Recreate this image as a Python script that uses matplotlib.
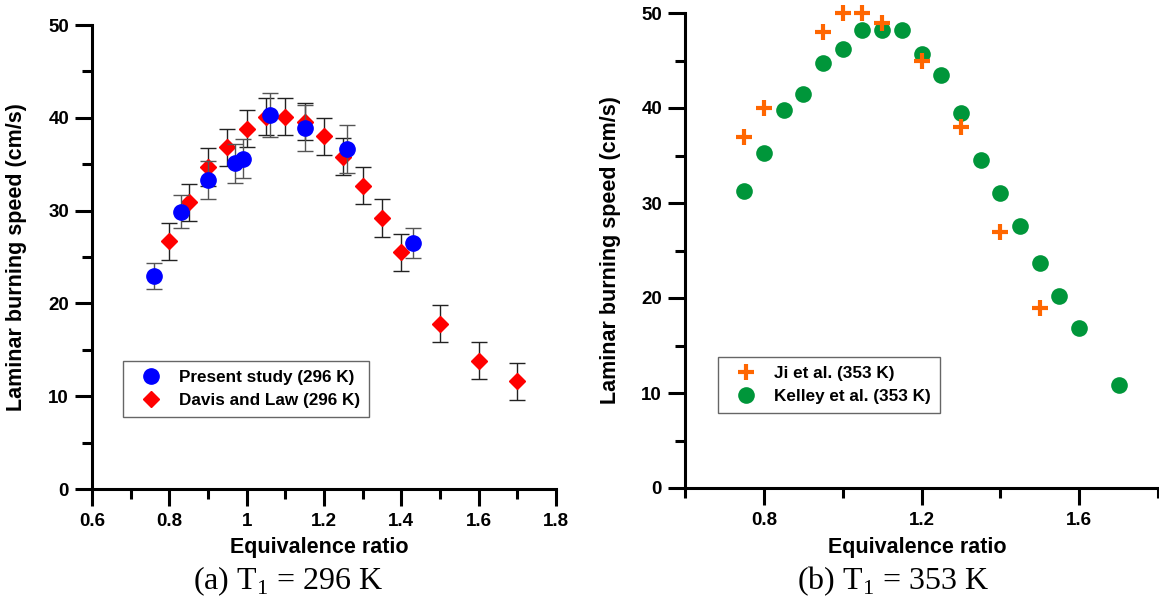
import matplotlib
matplotlib.use("Agg")
import matplotlib.pyplot as plt
from matplotlib.ticker import MultipleLocator, FixedLocator

plt.rcParams['font.family'] = ['Liberation Sans', 'DejaVu Sans']
plt.rcParams['mathtext.fontset'] = 'custom'
plt.rcParams['mathtext.rm'] = 'Liberation Serif'

# ---- Panel (a) data ----
present_phi = [0.76, 0.83, 0.90, 0.97, 0.99, 1.06, 1.15, 1.26, 1.43]
present_su = [22.9, 29.9, 33.3, 35.1, 35.6, 40.3, 38.9, 36.6, 26.5]
present_err = [1.4, 1.8, 2.0, 2.1, 2.1, 2.4, 2.5, 2.6, 1.6]

davis_phi = [0.80, 0.85, 0.90, 0.95, 1.00, 1.05, 1.10, 1.15, 1.20, 1.25,
             1.30, 1.35, 1.40, 1.50, 1.60, 1.70]
davis_su = [26.7, 30.9, 34.7, 36.8, 38.8, 40.1, 40.1, 39.6, 38.0, 35.8,
            32.7, 29.2, 25.5, 17.8, 13.8, 11.6]
davis_err = [2.0] * len(davis_phi)

# ---- Panel (b) data ----
ji_phi = [0.75, 0.80, 0.95, 1.00, 1.05, 1.10, 1.20, 1.30, 1.40, 1.50]
ji_su = [37.0, 40.0, 48.0, 50.0, 50.0, 49.0, 45.0, 38.0, 27.0, 19.0]

kelley_phi = [0.75, 0.80, 0.85, 0.90, 0.95, 1.00, 1.05, 1.10, 1.15, 1.20,
              1.25, 1.30, 1.35, 1.40, 1.45, 1.50, 1.55, 1.60, 1.70]
kelley_su = [31.3, 35.3, 39.8, 41.5, 44.7, 46.2, 48.2, 48.2, 48.2, 45.7,
             43.5, 39.5, 34.5, 31.1, 27.6, 23.7, 20.2, 16.8, 10.8]

y_ticks = [0, 10, 20, 30, 40, 50]
y_ticklabels = ['0', '10', '20', '30', '40', '50']
xa_ticks = [0.6, 0.8, 1.0, 1.2, 1.4, 1.6, 1.8]
xa_ticklabels = ['0.6', '0.8', '1', '1.2', '1.4', '1.6', '1.8']
xb_ticks = [0.8, 1.2, 1.6]
xb_ticklabels = ['0.8', '1.2', '1.6']

W, H = 1159, 605
fig = plt.figure(figsize=(W / 100, H / 100), dpi=100)

def px_axes(l, r, b, t):
    return fig.add_axes([l / W, 1 - b / H, (r - l) / W, (b - t) / H])

ax1 = px_axes(92, 556, 489, 25)
ax2 = px_axes(685, 1158, 488, 13)

TICK_FS = 13.5
LABEL_FS = 15.5
for ax in (ax1, ax2):
    for s in ('top', 'right'):
        ax.spines[s].set_visible(False)
    for s in ('left', 'bottom'):
        ax.spines[s].set_linewidth(2.2)
    ax.tick_params(which='major', direction='out', length=12.5, width=2.2)
    ax.tick_params(which='minor', direction='out', length=7, width=2.2)
    ax.tick_params(axis='x', which='major', pad=5)
    ax.tick_params(axis='y', which='major', pad=4)
    ax.set_ylim(0, 50)
    ax.set_yticks(y_ticks)
    ax.set_yticklabels(y_ticklabels, fontweight='bold', fontsize=TICK_FS)
    ax.yaxis.set_minor_locator(MultipleLocator(5))
    ax.set_xlabel('Equivalence ratio', fontsize=LABEL_FS, fontweight='bold')
    ax.set_ylabel('Laminar burning speed (cm/s)', fontsize=LABEL_FS,
                  fontweight='bold')

# Panel (a)
ax1.set_xlim(0.6, 1.8)
ax1.set_xticks(xa_ticks)
ax1.set_xticklabels(xa_ticklabels, fontweight='bold', fontsize=TICK_FS)
ax1.xaxis.set_minor_locator(MultipleLocator(0.1))

ax1.errorbar(davis_phi, davis_su, yerr=davis_err, fmt='D', color='#ff0000',
             markersize=8.5, ecolor='#222222',
             elinewidth=1.0, capsize=6, capthick=1.0,
             label='Davis and Law (296 K)', zorder=3)
ax1.errorbar(present_phi, present_su, yerr=present_err, fmt='o',
             color='#0000ff', markersize=11,
             ecolor='#555555', elinewidth=1.0, capsize=6, capthick=1.0,
             label='Present study (296 K)', zorder=4)

leg_kw = dict(loc='upper left', bbox_transform=fig.transFigure,
              borderaxespad=0, fancybox=False, edgecolor='#666666',
              framealpha=1, prop=dict(size=12.3, weight='bold'),
              handletextpad=0.5, borderpad=0.55, labelspacing=0.45,
              handlelength=2.2)
h, l = ax1.get_legend_handles_labels()
hp = [x[0] for x in h]
leg1 = ax1.legend([hp[1], hp[0]], [l[1], l[0]],
                  bbox_to_anchor=(123 / W, 1 - 361 / H), **leg_kw)
leg1.get_frame().set_linewidth(1.0)

# Panel (b)
ax2.set_xlim(0.6, 1.8)
ax2.set_xticks(xb_ticks)
ax2.set_xticklabels(xb_ticklabels, fontweight='bold', fontsize=TICK_FS)
ax2.xaxis.set_minor_locator(FixedLocator([0.6, 1.0, 1.4, 1.8]))

ax2.plot(kelley_phi, kelley_su, 'o', color='#00963a', markersize=12,
         markeredgewidth=0, label='Kelley et al. (353 K)', zorder=3,
         clip_on=False)
ax2.plot(ji_phi, ji_su, '+', color='#ff6600', markersize=12,
         markeredgewidth=3, label='Ji et al. (353 K)', zorder=4,
         clip_on=False)
h, l = ax2.get_legend_handles_labels()
leg2 = ax2.legend([h[1], h[0]], [l[1], l[0]],
                  bbox_to_anchor=(718 / W, 1 - 357 / H), **leg_kw)
leg2.get_frame().set_linewidth(1.0)

# label positions
ax1.yaxis.set_label_coords((27 - 92) / (556 - 92), 0.5)
ax2.yaxis.set_label_coords((621 - 685) / (1158 - 685), 0.5)
ax1.xaxis.set_label_coords(0.49, (489 - 537) / (489 - 25))
ax2.xaxis.set_label_coords(0.49, (488 - 537) / (488 - 13))

fig.text(288 / W, 1 - 581 / H, r'(a) T$_\mathrm{1}$ = 296 K',
         family='Liberation Serif', fontsize=23, ha='center', va='center')
fig.text(893 / W, 1 - 581 / H, r'(b) T$_\mathrm{1}$ = 353 K',
         family='Liberation Serif', fontsize=23, ha='center', va='center')

fig.savefig('out.png', dpi=100)
